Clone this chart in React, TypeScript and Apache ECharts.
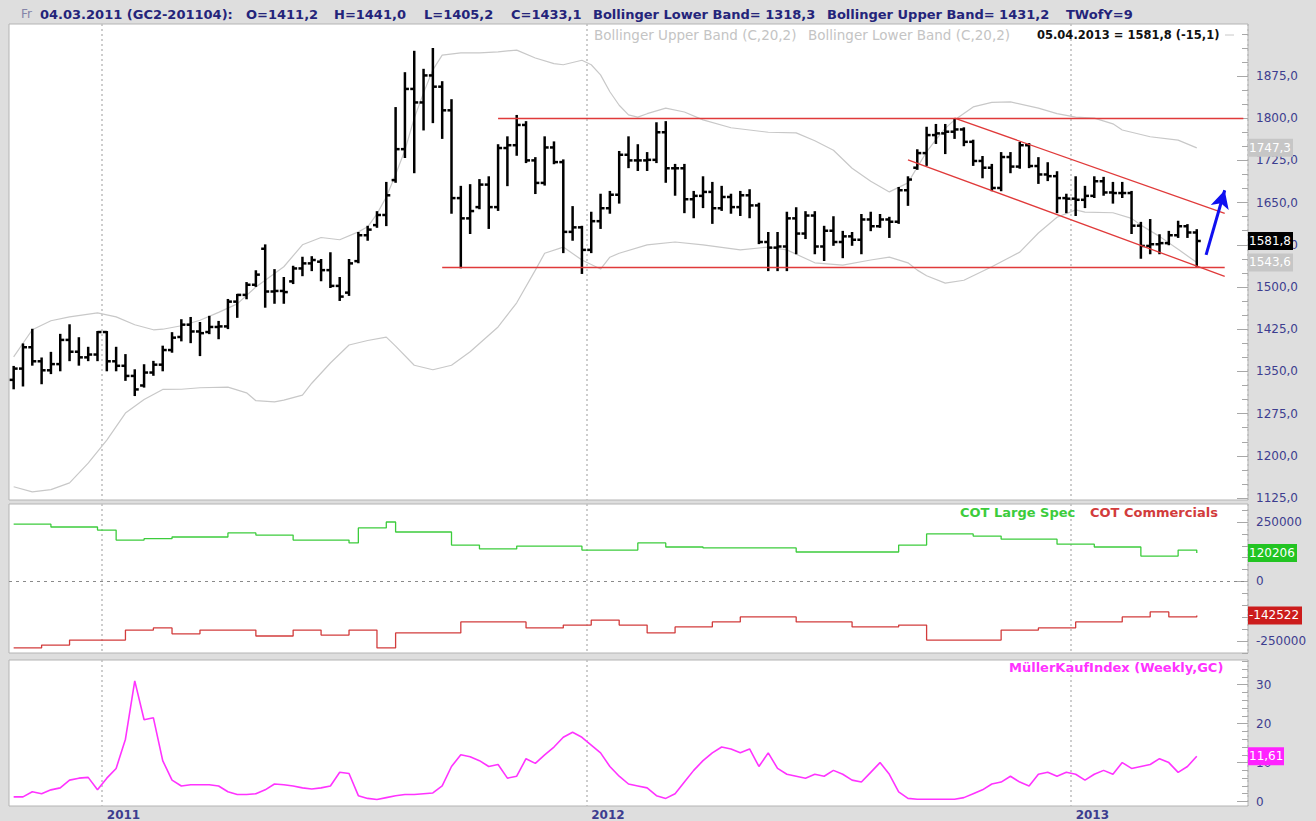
import React, { useEffect, useRef } from "react";
import * as echarts from "echarts";

const FONT = '"DejaVu Sans", Verdana, sans-serif';

// ---- categories: weekly bars (Fridays) ----
const firstWeekUTC = Date.UTC(2010, 9, 29);
const futureWeeks = 5;

// ---- price bars [open, high, low, close] ----
const priceOHLC: number[][] = [
  [1335, 1358, 1320, 1355], [1355, 1398, 1325, 1393], [1393, 1424, 1362, 1368], [1368, 1373, 1329, 1352],
  [1352, 1383, 1347, 1363], [1363, 1415, 1352, 1406], [1406, 1432, 1370, 1385], [1385, 1409, 1362, 1375],
  [1375, 1392, 1370, 1380], [1380, 1420, 1370, 1420], [1420, 1420, 1352, 1368], [1368, 1392, 1352, 1360],
  [1360, 1379, 1335, 1342], [1342, 1352, 1308, 1318], [1325, 1361, 1323, 1348], [1348, 1367, 1344, 1362],
  [1362, 1394, 1352, 1388], [1388, 1418, 1385, 1410], [1411.2, 1441.0, 1405.2, 1433.1], [1433, 1445, 1402, 1421],
  [1421, 1436, 1379, 1418], [1420, 1447, 1418, 1429], [1429, 1438, 1409, 1430], [1430, 1477, 1427, 1474],
  [1474, 1486, 1447, 1486], [1486, 1507, 1480, 1504], [1504, 1528, 1502, 1522], [1568, 1574, 1465, 1492],
  [1492, 1530, 1472, 1493], [1493, 1516, 1472, 1491], [1510, 1536, 1507, 1533], [1533, 1552, 1521, 1542],
  [1542, 1553, 1530, 1548], [1545, 1548, 1512, 1530], [1530, 1560, 1500, 1502], [1502, 1516, 1477, 1483],
  [1490, 1548, 1486, 1542], [1546, 1596, 1544, 1592], [1592, 1607, 1584, 1602], [1610, 1633, 1607, 1628],
  [1628, 1685, 1610, 1663], [1690, 1818, 1687, 1745], [1745, 1880, 1731, 1852], [1852, 1918, 1704, 1828],
  [1828, 1886, 1780, 1876], [1876, 1923, 1793, 1856], [1856, 1864, 1765, 1814], [1814, 1832, 1632, 1658],
  [1658, 1678, 1535, 1622], [1622, 1681, 1596, 1635], [1642, 1690, 1640, 1682], [1682, 1695, 1605, 1642],
  [1642, 1752, 1637, 1747], [1747, 1766, 1681, 1752], [1752, 1804, 1735, 1788], [1788, 1793, 1722, 1725],
  [1725, 1729, 1667, 1685], [1685, 1766, 1682, 1748], [1748, 1757, 1720, 1722], [1722, 1725, 1562, 1598],
  [1598, 1642, 1584, 1606], [1606, 1607, 1525, 1566], [1566, 1632, 1562, 1617], [1617, 1664, 1605, 1640],
  [1640, 1669, 1632, 1664], [1664, 1740, 1650, 1735], [1735, 1766, 1713, 1725], [1725, 1752, 1708, 1725],
  [1725, 1738, 1708, 1726], [1726, 1791, 1722, 1775], [1775, 1793, 1687, 1711], [1711, 1717, 1664, 1711],
  [1711, 1717, 1633, 1656], [1656, 1669, 1624, 1662], [1662, 1695, 1642, 1669], [1669, 1685, 1614, 1640],
  [1640, 1678, 1637, 1660], [1660, 1664, 1632, 1642], [1642, 1669, 1628, 1663], [1663, 1672, 1624, 1645],
  [1645, 1648, 1578, 1580], [1580, 1596, 1530, 1570], [1570, 1596, 1530, 1572], [1572, 1632, 1530, 1622],
  [1622, 1640, 1560, 1595], [1595, 1633, 1587, 1627], [1627, 1633, 1560, 1572], [1572, 1607, 1548, 1600],
  [1600, 1624, 1575, 1580], [1580, 1598, 1553, 1590], [1590, 1596, 1575, 1584], [1584, 1628, 1560, 1620],
  [1620, 1632, 1601, 1608], [1608, 1628, 1607, 1620], [1620, 1623, 1589, 1616], [1616, 1676, 1614, 1672],
  [1672, 1695, 1646, 1691], [1712, 1743, 1710, 1738], [1738, 1783, 1717, 1770], [1770, 1788, 1756, 1773],
  [1773, 1788, 1738, 1776], [1776, 1797, 1765, 1780], [1780, 1782, 1752, 1758], [1758, 1760, 1717, 1724],
  [1724, 1731, 1695, 1712], [1712, 1717, 1672, 1676], [1676, 1738, 1672, 1731], [1731, 1738, 1704, 1714],
  [1714, 1756, 1712, 1752], [1752, 1754, 1713, 1715], [1715, 1729, 1685, 1700], [1700, 1720, 1690, 1697],
  [1697, 1704, 1633, 1658], [1658, 1664, 1633, 1657], [1657, 1695, 1628, 1655], [1655, 1678, 1642, 1662],
  [1662, 1695, 1660, 1688], [1688, 1694, 1664, 1668], [1668, 1685, 1650, 1667], [1667, 1685, 1660, 1667],
  [1667, 1669, 1596, 1609], [1609, 1614, 1552, 1573], [1573, 1619, 1560, 1576], [1576, 1592, 1560, 1578],
  [1578, 1598, 1576, 1592], [1592, 1616, 1589, 1608], [1608, 1610, 1589, 1596.9], [1596.9, 1601, 1536, 1581.8],
];

// ---- Bollinger bands (C,20,2): [week index, value] ----
const bollUpper: number[][] = [
  [0, 1376], [2, 1424], [4, 1440], [6, 1447], [9, 1454], [11, 1447], [13, 1433], [15, 1424], [16, 1425],
  [18, 1431.2], [20, 1441], [22, 1455], [24, 1470], [26, 1500], [29, 1536], [31, 1575], [33, 1588], [35, 1584],
  [37, 1598], [38, 1607], [39, 1630], [40, 1660], [41, 1700], [42, 1743], [43, 1800], [44, 1845], [45, 1886],
  [46, 1912], [48, 1916], [50, 1916], [52, 1918], [54, 1921], [56, 1907], [58, 1897], [59, 1895], [61, 1903],
  [62, 1895], [63, 1877], [64, 1847], [65, 1823], [66, 1806], [67, 1802], [68, 1808], [70, 1818], [72, 1811],
  [74, 1797], [77, 1783], [81, 1775], [84, 1774], [86, 1760], [88, 1743], [90, 1711], [92, 1688], [94, 1669],
  [96, 1685], [97, 1713], [98, 1740], [99, 1762], [100, 1782], [101, 1797], [103, 1820], [105, 1828],
  [107, 1829], [110, 1818], [112, 1808], [114, 1802], [116, 1800], [118, 1790], [119, 1779], [122, 1767],
  [125, 1761], [127, 1747.3],
];
const bollLower: number[][] = [
  [0, 1145], [2, 1136], [4, 1140], [6, 1152], [8, 1187], [10, 1228], [12, 1276], [14, 1300], [16, 1318],
  [18, 1318.3], [20, 1321], [23, 1322], [25, 1312], [26, 1298], [28, 1296], [29, 1299], [31, 1308], [32, 1329],
  [34, 1365], [36, 1397], [38, 1405], [40, 1411], [41, 1395], [43, 1361], [45, 1353], [47, 1361], [49, 1385],
  [52, 1429], [54, 1472], [56, 1530], [57, 1560], [59, 1571], [61, 1548], [63, 1532], [64, 1553], [65, 1560],
  [68, 1575], [71, 1580], [74, 1575], [78, 1566], [81, 1571], [83, 1566], [86, 1543], [89, 1539], [92, 1548],
  [94, 1553], [96, 1543], [97, 1530], [98, 1520], [100, 1507], [102, 1512], [105, 1536], [108, 1562],
  [110, 1596], [112, 1624], [114, 1637], [115, 1633], [118, 1632], [120, 1622], [121, 1610], [123, 1590],
  [125, 1567], [127, 1543.6],
];

// ---- COT positions (step lines): [week index, contracts] ----
const cotLargeSpec: number[][] = [
  [0, 241000], [4, 229000], [9, 216000], [11, 174000], [14, 180000], [17, 187000], [23, 204000], [26, 195000],
  [30, 174000], [36, 162000], [37, 225000], [40, 250000], [41, 208000], [47, 153000], [50, 137000],
  [54, 149000], [61, 132000], [67, 162000], [70, 145000], [74, 141000], [84, 124000], [95, 153000],
  [98, 200000], [103, 191000], [106, 178000], [112, 157000], [116, 145000], [121, 107000], [125, 132000],
  [127, 120206],
];
const cotCommercials: number[][] = [
  [0, -279000], [3, -267000], [6, -246000], [12, -204000], [15, -195000], [17, -220000], [20, -204000],
  [26, -229000], [30, -204000], [33, -225000], [36, -204000], [39, -279000], [41, -216000], [48, -170000],
  [55, -195000], [59, -183000], [62, -162000], [65, -183000], [68, -216000], [71, -191000], [75, -170000],
  [78, -149000], [84, -170000], [90, -191000], [95, -183000], [98, -246000], [106, -204000], [110, -195000],
  [114, -170000], [119, -149000], [122, -128000], [124, -149000], [127, -142522],
];

// ---- MüllerKaufIndex, one value per week ----
const muellerKauf: number[] = [
  1.2, 1.2, 2.5, 2.0, 3.0, 3.5, 5.5, 6.0, 6.2, 3.0, 6.0, 8.5, 16, 31, 21, 21.5, 10.5, 5.5, 4.0, 4.3,
  4.3, 4.3, 4.0, 2.5, 1.8, 1.8, 2.0, 3.0, 4.5, 4.3, 4.0, 3.5, 3.2, 3.5, 4.0, 7.5, 7.2, 1.5, 0.8, 0.5,
  1.0, 1.5, 1.8, 1.8, 2.0, 2.2, 4.0, 9.0, 12.0, 11.5, 10.5, 9.0, 9.5, 6.0, 6.5, 11.0, 9.8, 12.0, 14.0, 16.5,
  17.8, 16.5, 14.5, 12.5, 9.0, 6.5, 4.5, 4.0, 3.5, 1.5, 0.8, 2.0, 5.0, 8.0, 10.5, 12.5, 14.0, 13.5, 12.5, 13.5,
  9.0, 12.5, 8.5, 7.0, 6.5, 6.0, 7.0, 6.5, 8.0, 7.0, 5.5, 5.0, 7.5, 10.0, 7.0, 2.5, 0.8, 0.6, 0.6, 0.6,
  0.6, 0.6, 1.0, 2.0, 3.0, 4.5, 5.0, 6.5, 5.0, 4.0, 7.0, 7.5, 6.5, 7.5, 7.0, 5.5, 7.0, 8.0, 7.0, 10.0,
  8.5, 9.0, 9.5, 11.0, 10.0, 7.5, 9.0, 11.61,
];

// ---- drawn annotations: [week index, price] pairs ----
const resistanceLine = [[52, 1800], [132, 1800]];
const supportLine = [[46, 1535], [130, 1535]];
const channelUpper = [[101, 1800], [130, 1631]];
const channelLower = [[96, 1726], [130, 1519]];
const arrowUp = [[128, 1557], [130, 1672]];

// ---- axis labels / ticks ----
const priceLabels = [1125, 1200, 1275, 1350, 1425, 1500, 1575, 1650, 1725, 1800, 1875];
const priceTicks = [1125, 1150, 1175, 1200, 1225, 1250, 1275, 1300, 1325, 1350, 1375, 1400, 1425, 1450, 1475, 1500,
  1525, 1550, 1575, 1600, 1625, 1650, 1675, 1700, 1725, 1750, 1775, 1800, 1825, 1850, 1875, 1900, 1925, 1950];
const cotLabels = [-250000, 0, 250000];
const cotTicks = [-300000, -250000, -200000, -150000, -100000, -50000, 0, 50000, 100000, 150000, 200000, 250000, 300000];
const mkiLabels = [0, 10, 20, 30];
const mkiTicks = [0, 2, 4, 6, 8, 10, 12, 14, 16, 18, 20, 22, 24, 26, 28, 30, 32, 34, 36];

const LABEL_COLOR = "#3d3d8f";

function weekCategories(): string[] {
  const out: string[] = [];
  const total = priceOHLC.length + futureWeeks;
  for (let i = 0; i < total; i++) {
    const d = new Date(firstWeekUTC + i * 7 * 86400000);
    out.push(d.toISOString().slice(0, 10));
  }
  return out;
}

export default function App() {
  const ref = useRef<HTMLDivElement>(null);

  useEffect(() => {
    const chart = echarts.init(ref.current!, null, { renderer: "svg" });
    const cats = weekCategories();
    const isYearStart = (i: number) => i > 0 && cats[i].slice(0, 4) !== cats[i - 1].slice(0, 4);

    const grids = [
      { left: 9, top: 24, width: 1239, height: 476 },
      { left: 9, top: 504, width: 1239, height: 149 },
      { left: 9, top: 660, width: 1239, height: 147 },
    ].map((g) => ({ ...g, show: true, backgroundColor: "#ffffff", borderColor: "#b4b4b4", borderWidth: 1 }));

    const xAxes = [0, 1, 2].map((gi) => ({
      type: "category",
      gridIndex: gi,
      data: cats,
      boundaryGap: true,
      axisLine: { show: false },
      axisTick: { show: false },
      axisLabel: {
        show: gi === 2,
        interval: (i: number) => isYearStart(i),
        formatter: (v: string) => v.slice(0, 4),
        color: LABEL_COLOR,
        fontFamily: FONT,
        fontSize: 12,
        fontWeight: "bold",
        align: "left",
        margin: 3,
      },
      splitLine: {
        show: true,
        interval: (i: number) => isYearStart(i),
        lineStyle: { color: "#bdbdbd", type: [2, 3], width: 1.5 },
      },
    }));

    const ranges = [
      { min: 1121.5, max: 1967.4, labels: priceLabels, ticks: priceTicks, fmt: (v: number) => v.toFixed(1).replace(".", ",") },
      { min: -300400, max: 325600, labels: cotLabels, ticks: cotTicks, fmt: (v: number) => String(v) },
      { min: -1.15, max: 36.35, labels: mkiLabels, ticks: mkiTicks, fmt: (v: number) => String(v) },
    ];

    const yAxes: any[] = [];
    ranges.forEach((r, gi) => {
      yAxes.push({
        type: "value",
        gridIndex: gi,
        position: "right",
        min: r.min,
        max: r.max,
        axisLine: { show: false },
        splitLine: { show: false },
        axisTick: { show: true, inside: true, length: 11, customValues: r.labels, lineStyle: { color: "#a8a8a8" } },
        axisLabel: {
          customValues: r.labels,
          formatter: r.fmt,
          color: LABEL_COLOR,
          fontFamily: FONT,
          fontSize: 12,
          margin: 8,
        },
      });
    });
    ranges.forEach((r, gi) => {
      yAxes.push({
        type: "value",
        gridIndex: gi,
        position: "right",
        min: r.min,
        max: r.max,
        axisLine: { show: false },
        splitLine: { show: false },
        axisTick: { show: true, inside: true, length: 6, customValues: r.ticks, lineStyle: { color: "#a8a8a8" } },
        axisLabel: { show: false },
      });
    });

    const renderOHLC = (_params: any, api: any) => {
      const i = api.value(0);
      const o = api.coord([i, api.value(1)]);
      const h = api.coord([i, api.value(2)]);
      const l = api.coord([i, api.value(3)]);
      const c = api.coord([i, api.value(4)]);
      const style = { stroke: "#000000", lineWidth: 2.5 };
      return {
        type: "group",
        children: [
          { type: "line", shape: { x1: h[0], y1: h[1] - 1, x2: l[0], y2: l[1] + 1 }, style },
          { type: "line", shape: { x1: o[0] - 4, y1: o[1], x2: o[0], y2: o[1] }, style },
          { type: "line", shape: { x1: c[0], y1: c[1], x2: c[0] + 4, y2: c[1] }, style },
        ],
      };
    };

    const seg = (pts: number[][]) => [{ coord: pts[0] }, { coord: pts[1] }];

    const option: any = {
      animation: false,
      backgroundColor: "#dedede",
      grid: grids,
      xAxis: xAxes,
      yAxis: yAxes,
      series: [
        {
          type: "line",
          name: "Bollinger Upper Band",
          xAxisIndex: 0,
          yAxisIndex: 0,
          data: bollUpper,
          showSymbol: false,
          lineStyle: { color: "#c8c8c8", width: 1.2 },
          z: 1,
          silent: true,
        },
        {
          type: "line",
          name: "Bollinger Lower Band",
          xAxisIndex: 0,
          yAxisIndex: 0,
          data: bollLower,
          showSymbol: false,
          lineStyle: { color: "#c8c8c8", width: 1.2 },
          z: 1,
          silent: true,
          markLine: {
            silent: true,
            symbol: ["none", "none"],
            label: { show: false },
            lineStyle: { color: "#e03a3a", width: 1.3, type: "solid" },
            data: [seg(resistanceLine), seg(supportLine), seg(channelUpper), seg(channelLower)],
          },
        },
        {
          type: "custom",
          name: "GC",
          xAxisIndex: 0,
          yAxisIndex: 0,
          renderItem: renderOHLC,
          encode: { x: 0, y: [1, 2, 3, 4] },
          data: priceOHLC.map((r, i) => [i, ...r]),
          z: 3,
        },
        {
          type: "line",
          name: "arrow",
          xAxisIndex: 0,
          yAxisIndex: 0,
          data: [],
          markLine: {
            silent: true,
            symbol: ["none", "arrow"],
            symbolSize: [14, 18],
            label: { show: false },
            lineStyle: { color: "#1010f0", width: 3, type: "solid" },
            data: [seg(arrowUp)],
          },
          z: 4,
        },
        {
          type: "line",
          name: "COT Large Spec",
          xAxisIndex: 1,
          yAxisIndex: 1,
          step: "end",
          data: cotLargeSpec,
          showSymbol: false,
          lineStyle: { color: "#3ccc3c", width: 1.3 },
          markLine: {
            silent: true,
            symbol: ["none", "none"],
            label: { show: false },
            lineStyle: { color: "#8a8a8a", width: 1.2, type: [3, 4] },
            data: [{ yAxis: 0 }],
          },
        },
        {
          type: "line",
          name: "COT Commercials",
          xAxisIndex: 1,
          yAxisIndex: 1,
          step: "end",
          data: cotCommercials,
          showSymbol: false,
          lineStyle: { color: "#d23c3c", width: 1.3 },
        },
        {
          type: "line",
          name: "MüllerKaufIndex",
          xAxisIndex: 2,
          yAxisIndex: 2,
          data: muellerKauf,
          showSymbol: false,
          lineStyle: { color: "#ff33ff", width: 1.6 },
        },
      ],
    };
    chart.setOption(option);

    const header = "#24247a";
    const hb = `bold 13px ${FONT}`;
    const mid = "middle";
    const texts: any[] = [
      { type: "text", x: 21, y: 14, style: { text: "Fr", font: `12px ${FONT}`, fill: "#8484a8", verticalAlign: mid } },
      { type: "text", x: 40, y: 14, style: { text: "04.03.2011 (GC2-201104):", font: hb, fill: header, verticalAlign: mid } },
      { type: "text", x: 246, y: 14, style: { text: "O=1411,2", font: hb, fill: header, verticalAlign: mid } },
      { type: "text", x: 334, y: 14, style: { text: "H=1441,0", font: hb, fill: header, verticalAlign: mid } },
      { type: "text", x: 424, y: 14, style: { text: "L=1405,2", font: hb, fill: header, verticalAlign: mid } },
      { type: "text", x: 511, y: 14, style: { text: "C=1433,1", font: hb, fill: header, verticalAlign: mid } },
      { type: "text", x: 593, y: 14, style: { text: "Bollinger Lower Band= 1318,3", font: hb, fill: header, verticalAlign: mid } },
      { type: "text", x: 827, y: 14, style: { text: "Bollinger Upper Band= 1431,2", font: hb, fill: header, verticalAlign: mid } },
      { type: "text", x: 1066, y: 14, style: { text: "TWofY=9", font: hb, fill: header, verticalAlign: mid } },
      { type: "text", x: 594, y: 35, style: { text: "Bollinger Upper Band (C,20,2)", font: `13.5px ${FONT}`, fill: "#c4c4c4", verticalAlign: mid } },
      { type: "text", x: 808, y: 35, style: { text: "Bollinger Lower Band (C,20,2)", font: `13.5px ${FONT}`, fill: "#c4c4c4", verticalAlign: mid } },
      { type: "text", x: 1037, y: 35, style: { text: "05.04.2013 = 1581,8 (-15,1)", font: `bold 11.5px ${FONT}`, fill: "#111111", verticalAlign: mid } },
      { type: "line", shape: { x1: 1225, y1: 35, x2: 1234, y2: 35 }, style: { stroke: "#c8c8c8", lineWidth: 1 } },
      { type: "text", x: 960, y: 512, style: { text: "COT Large Spec", font: hb, fill: "#3ccc3c", verticalAlign: mid } },
      { type: "text", x: 1090, y: 512, style: { text: "COT Commercials", font: hb, fill: "#d23c3c", verticalAlign: mid } },
      { type: "text", x: 1009, y: 667, style: { text: "MüllerKaufIndex (Weekly,GC)", font: hb, fill: "#ff33ff", verticalAlign: mid } },
    ];

    const badges = [
      { axis: 0, value: 1747.3, text: "1747,3", bg: "#c6c6c6", w: 45 },
      { axis: 0, value: 1543.6, text: "1543,6", bg: "#c6c6c6", w: 45 },
      { axis: 0, value: 1581.8, text: "1581,8", bg: "#000000", w: 45 },
      { axis: 1, value: 120206, text: "120206", bg: "#22c422", w: 49 },
      { axis: 1, value: -142522, text: "-142522", bg: "#cc1c1c", w: 54 },
      { axis: 2, value: 11.61, text: "11,61", bg: "#ff22ff", w: 36 },
    ];
    badges.forEach((b) => {
      const y = chart.convertToPixel({ yAxisIndex: b.axis }, b.value) as number;
      texts.push({ type: "rect", shape: { x: 1248, y: y - 9, width: b.w, height: 18 }, style: { fill: b.bg }, z: 10 });
      texts.push({
        type: "text",
        x: 1249,
        y,
        z: 11,
        style: { text: b.text, font: `12px ${FONT}`, fill: "#ffffff", verticalAlign: mid },
      });
    });

    chart.setOption({ graphic: texts });
    return () => chart.dispose();
  }, []);

  return <div ref={ref} style={{ position: "fixed", left: 0, top: 0, width: 1316, height: 821 }} />;
}
